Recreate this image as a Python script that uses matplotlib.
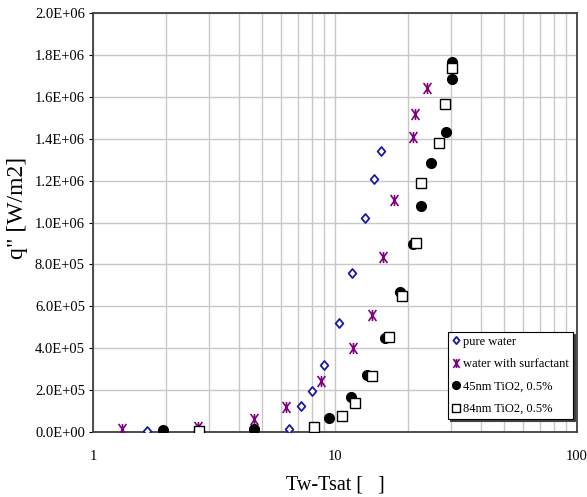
import matplotlib
matplotlib.use("Agg")
import matplotlib.pyplot as plt
from matplotlib.path import Path
from matplotlib.ticker import FuncFormatter, FixedLocator, LogLocator, NullFormatter

plt.rcParams['font.family'] = ['Liberation Serif', 'DejaVu Serif']

# ---- data ----
pure_x = [1.67, 6.44, 7.21, 8.03, 9.0, 10.4, 11.7, 13.3, 14.5, 15.4]
pure_q = [5e3, 1.6e4, 1.26e5, 1.97e5, 3.21e5, 5.22e5, 7.57e5, 1.02e6, 1.209e6, 1.341e6]

surf_x = [1.31, 2.72, 4.64, 6.25, 8.75, 11.8, 14.2, 15.7, 17.5, 20.9, 21.4, 23.9]
surf_q = [1.6e4, 2.5e4, 6.0e4, 1.18e5, 2.42e5, 4.01e5, 5.6e5, 8.37e5, 1.106e6, 1.41e6, 1.518e6, 1.644e6]

tio45_x = [1.94, 4.64, 9.39, 11.6, 13.5, 16.0, 18.6, 20.9, 22.7, 24.9, 28.7, 30.4, 30.4]
tio45_q = [8e3, 1.3e4, 6.8e4, 1.69e5, 2.74e5, 4.49e5, 6.67e5, 8.96e5, 1.077e6, 1.284e6, 1.434e6, 1.685e6, 1.764e6]

tio84_x = [2.74, 8.19, 10.7, 12.1, 14.2, 16.7, 18.9, 21.6, 22.7, 26.9, 28.4, 30.4]
tio84_q = [5e3, 2.2e4, 7.5e4, 1.40e5, 2.69e5, 4.55e5, 6.49e5, 9.04e5, 1.187e6, 1.378e6, 1.564e6, 1.736e6]

series_labels = ["pure water", "water with surfactant", "45nm TiO2, 0.5%", "84nm TiO2, 0.5%"]
y_ticks = [0, 2e5, 4e5, 6e5, 8e5, 1.0e6, 1.2e6, 1.4e6, 1.6e6, 1.8e6, 2.0e6]
x_ticks = [1, 10, 100]

# Excel-like star marker: X with a vertical bar
star = Path([(-0.7, -1), (0.7, 1), (-0.7, 1), (0.7, -1), (0, -1), (0, 1)],
            [Path.MOVETO, Path.LINETO, Path.MOVETO, Path.LINETO, Path.MOVETO, Path.LINETO])
# Slightly tall diamond
diamond = Path([(0, 1), (0.85, 0), (0, -1), (-0.85, 0), (0, 1)],
               [Path.MOVETO, Path.LINETO, Path.LINETO, Path.LINETO, Path.CLOSEPOLY])

fig = plt.figure(figsize=(5.87, 4.97), dpi=100)
ax = fig.add_axes([93.3/587, 65/497, (577-93.3)/587, 419/497])

ax.plot(pure_x, pure_q, linestyle='none', marker=diamond, ms=6.5, mfc='white',
        mec='#1a1aa0', mew=1.3, label=series_labels[0], zorder=3)
ax.plot(surf_x, surf_q, linestyle='none', marker=star, ms=8, color='#800080',
        mew=1.2, label=series_labels[1], zorder=3)
ax.plot(tio45_x, tio45_q, linestyle='none', marker='o', ms=7, mfc='black',
        mec='black', label=series_labels[2], zorder=3)
ax.plot(tio84_x, tio84_q, linestyle='none', marker='s', ms=7, mfc='white',
        mec='black', mew=1.0, label=series_labels[3], zorder=4)

ax.set_xscale('log')
ax.set_xlim(1, 100)
ax.set_ylim(0, 2.0e6)
ax.xaxis.set_major_locator(FixedLocator(x_ticks))
ax.xaxis.set_major_formatter(FuncFormatter(lambda v, p: f"{v:g}"))
ax.xaxis.set_minor_locator(LogLocator(base=10, subs=range(2, 10)))
ax.xaxis.set_minor_formatter(NullFormatter())
ax.yaxis.set_major_locator(FixedLocator(y_ticks))
ax.yaxis.set_major_formatter(FuncFormatter(lambda v, p: "%.1E" % v))

ax.grid(True, which='both', axis='x', color='#c8c8c8', lw=1.0)
ax.grid(True, which='major', axis='y', color='#c8c8c8', lw=1.0)
ax.set_axisbelow(True)

for s in ax.spines.values():
    s.set_color('#404040')
    s.set_linewidth(1.3)

ax.tick_params(axis='y', which='major', length=3, direction='out', labelsize=10.5, pad=3)
ax.tick_params(axis='x', which='both', length=0, labelsize=10.5, pad=13)

ax.set_xlabel("Tw-Tsat [   ]", fontsize=14.5)
ax.xaxis.set_label_coords(0.5, -0.105)
ax.set_ylabel('q" [W/m2]', fontsize=17)
ax.yaxis.set_label_coords(-0.135, 0.535)

leg = ax.legend(loc='lower left', bbox_to_anchor=(0.733, 0.031), borderaxespad=0,
                fontsize=9, frameon=True, fancybox=False, handlelength=0.6,
                handletextpad=0.3, labelspacing=0.84, borderpad=0.32,
                shadow={'color': '#404040', 'alpha': 1.0, 'ox': 1.5, 'oy': -1.5},
                markerscale=0.8)
leg.get_frame().set_edgecolor('black')
leg.get_frame().set_linewidth(0.8)

fig.savefig("out.png", dpi=100)
